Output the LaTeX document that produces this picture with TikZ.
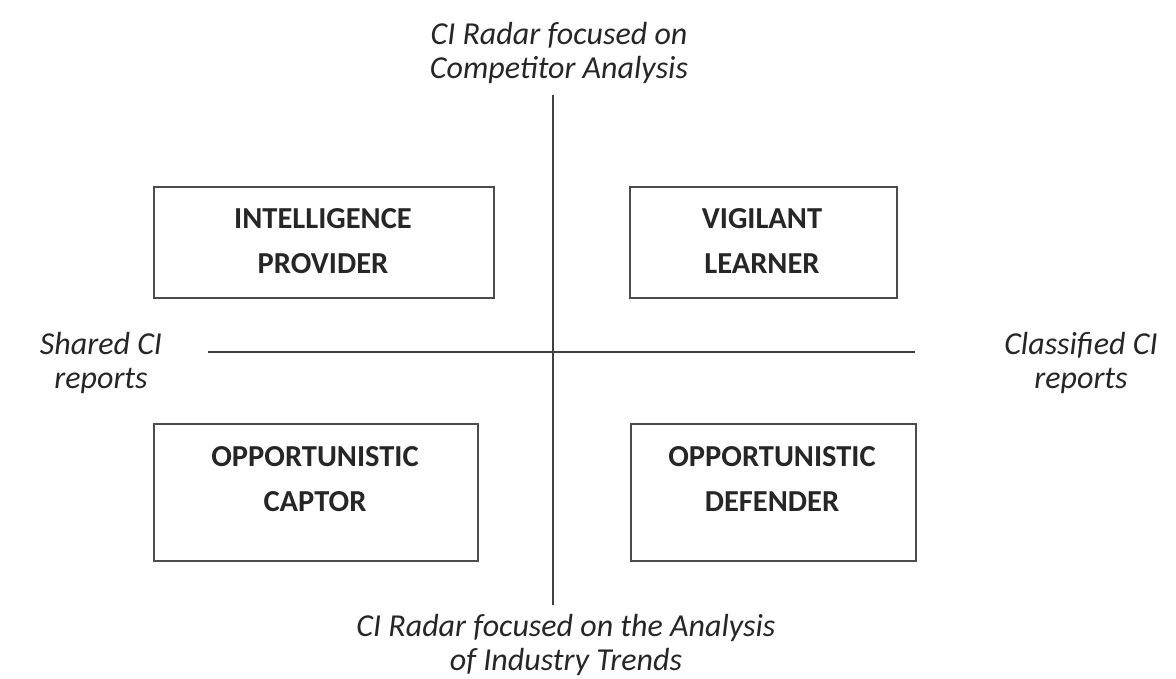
\documentclass[tikz,border=0pt]{standalone}
\usepackage{fontspec}
\setmainfont{Carlito}
\begin{document}
\begin{tikzpicture}[x=1pt,y=-1pt,
  quad/.style={draw=black!70,line width=1.8pt,inner sep=0pt,anchor=north west},
  boxtext/.style={font=\fontsize{30.5}{45}\selectfont\bfseries,align=center,inner sep=0pt,text=black!85},
  axlabel/.style={font=\fontsize{32}{34}\selectfont\itshape,align=center,inner sep=0pt,text=black!85},
  axis/.style={draw=black!75,line width=1.6pt}]
\useasboundingbox (0,0) rectangle (1176,679);
% boxes
\node[quad,minimum width=340pt,minimum height=111pt] (ip) at (153,186) {};
\node[quad,minimum width=267pt,minimum height=111pt] (vl) at (629,186) {};
\node[quad,minimum width=324pt,minimum height=137pt] (oc) at (153,423) {};
\node[quad,minimum width=285pt,minimum height=137pt] (od) at (630,423) {};
% box texts
\node[boxtext] (tip) at (323,241) {INTELLIGENCE\\PROVIDER};
\node[boxtext] (tvl) at (762,241) {VIGILANT\\LEARNER};
\node[boxtext] (toc) at (315,479) {OPPORTUNISTIC\\CAPTOR};
\node[boxtext] (tod) at (772,479) {OPPORTUNISTIC\\DEFENDER};
% axes
\coordinate (vtop) at (553,95);
\coordinate (vbot) at (553,605);
\coordinate (hl) at (208,352);
\coordinate (hr) at (915,352);
\draw[axis] (vtop) -- (vbot);
\draw[axis] (hl) -- (hr);
% axis labels
\node[axlabel] (ltop) at (559,53) {CI Radar focused on\\Competitor Analysis};
\node[axlabel] (lbot) at (566,645) {\fontsize{32}{32}\selectfont CI Radar focused on the Analysis\\of Industry Trends};
\node[axlabel] (lleft) at (101,363) {Shared CI\\reports};
\node[axlabel] (lright) at (1081,363) {Classified CI\\reports};
\end{tikzpicture}
\end{document}
